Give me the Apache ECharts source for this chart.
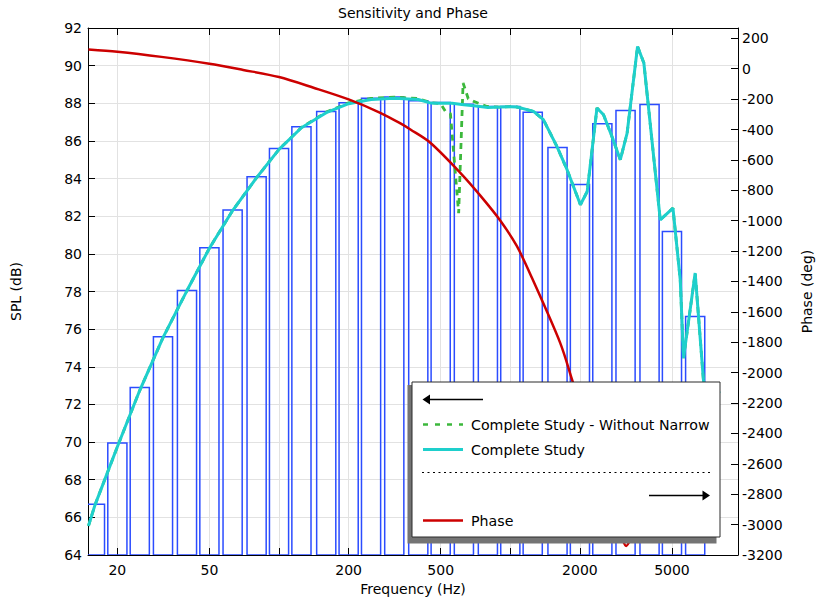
<!DOCTYPE html>
<html>
<head>
<meta charset="utf-8">
<title>Sensitivity and Phase</title>
<script src="https://cdn.jsdelivr.net/npm/echarts@6/dist/echarts.min.js"></script>
<style>
  html, body { margin: 0; padding: 0; background: #fff; }
  #chart { width: 816px; height: 597px; }
</style>
</head>
<body>
<div id="chart"></div>
<script>
// 1/3-octave band levels (dB SPL)
const bandCenters = [16, 20, 25, 31.5, 40, 50, 63, 80, 100, 125, 160, 200, 250, 315, 400,
  500, 630, 800, 1000, 1250, 1600, 2000, 2500, 3150, 4000, 5000, 6300];
const bandSpl = [66.7, 69.95, 72.9, 75.6, 78.05, 80.33, 82.33, 84.1, 85.6, 86.75, 87.56, 88.03, 88.27, 88.34, 88.13,
  88.04, 87.95, 87.83, 87.83, 87.53, 85.65, 83.68, 86.91, 87.62, 87.94, 81.19, 76.67];

// Complete Study: sensitivity (dB SPL)
const studyFreq = [15, 16, 20, 25, 31.5, 40, 50, 63, 80, 100, 125, 160, 200, 250, 315, 400, 450, 500, 560, 630,
  710, 800, 900, 1000, 1070, 1260, 1390, 1590, 1760, 2010, 2150, 2370, 2530, 2750, 2990, 3200, 3550, 3780,
  4450, 5050, 5430, 5610, 6300, 6840, 7300, 8000];
const studySpl = [65.55, 66.65, 69.75, 72.75, 75.55, 78.05, 80.3, 82.3, 84.05, 85.55, 86.7, 87.5, 87.98, 88.2, 88.27, 88.2, 88.02, 88.0, 88.0, 87.92,
  87.85, 87.78, 87.8, 87.82, 87.8, 87.57, 87.13, 85.71, 84.47, 82.61, 83.31, 87.75, 87.39, 86.24, 85.0, 86.42, 91.02, 90.14,
  81.81, 82.43, 78.62, 74.46, 78.98, 73.3, 71.2, 72.7];

// Complete Study - Without Narrow: sensitivity (dB SPL)
const narrowFreq = [15, 16, 20, 25, 31.5, 40, 50, 63, 80, 100, 125, 160, 200, 250, 315, 400, 450, 500, 524, 551,
  598, 625, 658, 694, 793, 900, 1000, 1070, 1260, 1390, 1590, 1760, 2010, 2150, 2370, 2530, 2750, 2990, 3200, 3550, 3780,
  4450, 5050, 5430, 5610, 6300, 6840, 7300, 8000];
const narrowSpl = [65.55, 66.65, 69.75, 72.75, 75.55, 78.05, 80.3, 82.3, 84.05, 85.55, 86.72, 87.53, 88.02, 88.26, 88.33, 88.25, 88.04, 87.98, 87.57, 87.45,
  82.16, 89.08, 88.24, 88.1, 87.83, 87.8, 87.82, 87.8, 87.57, 87.13, 85.71, 84.47, 82.61, 83.31, 87.75, 87.39, 86.24, 85.0, 86.42, 91.02, 90.14,
  81.81, 82.43, 78.62, 74.46, 78.98, 73.3, 71.2, 72.7];

// Phase (deg)
const phaseFreq = [15, 20, 31, 50, 70, 100, 141, 200, 274, 335, 370, 451, 608, 742, 906, 1068, 1240, 1643, 1848,
  2100, 2400, 2800, 2950, 3170, 3400, 3800, 4500, 5500, 6500, 8000];
const phaseDeg = [127, 112, 78, 33, -8, -55, -125, -202, -290, -360, -400, -487, -685, -835, -1000, -1168, -1376, -1804, -2045,
  -2330, -2680, -3112, -3060, -3140, -3060, -2950, -2800, -2650, -2550, -2500];

// Axis ticks
const freqTicks = [20, 50, 100, 200, 500, 1000, 2000, 5000];
const freqLabels = [20, 50, 200, 500, 2000, 5000];

const FONT = 'DejaVu Sans';
const BAND_HALF = 1.1;            // band edge ratio around each centre frequency
const FREQ_MIN = 14.93, FREQ_MAX = 9650;
const SPL_MIN = 64, SPL_MAX = 92;
const PHASE_MIN = -3200, PHASE_MAX = 268;

const COLORS = {
  band: '#2b4cff',
  narrow: '#3cb83c',
  study: '#1ecfcc',
  phase: '#cc0000',
  grid: '#e2e2e2'
};

const pairs = (xs, ys) => xs.map((x, i) => [x, ys[i]]);

const chart = echarts.init(document.getElementById('chart'), null, { renderer: 'svg' });

const axisText = { color: '#000', fontSize: 14, fontFamily: FONT };
const blackLine = { color: '#000', width: 1 };

// Legend box drawn as graphic elements (arrows mark which axis each group uses)
const LX = 412, LY = 382, LW = 308, LH = 155;
const legendGraphic = [
  { type: 'rect', z: 100, shape: { x: LX - 4.5, y: LY + 3, width: LW + 1, height: LH + 3.5 }, style: { fill: '#747474' } },
  { type: 'rect', z: 101, shape: { x: LX, y: LY, width: LW, height: LH }, style: { fill: '#fff', stroke: '#2a2a2a', lineWidth: 1 } },
  // left-axis arrow
  { type: 'line', z: 102, shape: { x1: 429, y1: 399.5, x2: 483, y2: 399.5 }, style: { stroke: '#000', lineWidth: 1.5 } },
  { type: 'polygon', z: 102, shape: { points: [[422.5, 399.5], [430, 394.5], [430, 404.5]] }, style: { fill: '#000' } },
  // Complete Study - Without Narrow
  { type: 'line', z: 102, shape: { x1: 423, y1: 424.5, x2: 463, y2: 424.5 }, style: { stroke: COLORS.narrow, lineWidth: 2.5, lineDash: [5, 7] } },
  { type: 'text', z: 102, style: { text: 'Complete Study - Without Narrow', x: 471, y: 424.5, verticalAlign: 'middle',
      font: '14.2px ' + FONT, fill: '#000', width: 246, overflow: 'truncate', ellipsis: '' } },
  // Complete Study
  { type: 'line', z: 102, shape: { x1: 423, y1: 449.5, x2: 463, y2: 449.5 }, style: { stroke: COLORS.study, lineWidth: 3 } },
  { type: 'text', z: 102, style: { text: 'Complete Study', x: 471, y: 449.5, verticalAlign: 'middle', font: '14.2px ' + FONT, fill: '#000' } },
  // separator
  { type: 'line', z: 102, shape: { x1: 422, y1: 472.5, x2: 710, y2: 472.5 }, style: { stroke: '#000', lineWidth: 1, lineDash: [2, 3.5] } },
  // right-axis arrow
  { type: 'line', z: 102, shape: { x1: 649, y1: 495.5, x2: 703, y2: 495.5 }, style: { stroke: '#000', lineWidth: 1.5 } },
  { type: 'polygon', z: 102, shape: { points: [[710, 495.5], [702.5, 490.5], [702.5, 500.5]] }, style: { fill: '#000' } },
  // Phase
  { type: 'line', z: 102, shape: { x1: 423, y1: 520.5, x2: 463, y2: 520.5 }, style: { stroke: COLORS.phase, lineWidth: 2.5 } },
  { type: 'text', z: 102, style: { text: 'Phase', x: 471, y: 521, verticalAlign: 'middle', font: '14.2px ' + FONT, fill: '#000' } }
];

const option = {
  animation: false,
  backgroundColor: '#fff',
  textStyle: { fontFamily: FONT },
  title: {
    text: 'Sensitivity and Phase',
    left: 333,
    top: 1,
    textStyle: { fontFamily: FONT, fontSize: 14, fontWeight: 'normal', color: '#000' }
  },
  grid: { left: 88, right: 78, top: 28, bottom: 42, containLabel: false, outerBoundsMode: 'none' },
  xAxis: [
    {
      type: 'log', logBase: 10, min: FREQ_MIN, max: FREQ_MAX, position: 'bottom',
      name: 'Frequency (Hz)', nameLocation: 'middle', nameGap: 22, nameTextStyle: axisText,
      axisLine: { onZero: false, lineStyle: blackLine },
      axisTick: { inside: true, length: 7, customValues: freqTicks, lineStyle: blackLine },
      axisLabel: { customValues: freqLabels, formatter: v => String(Math.round(v)), margin: 8, ...axisText },
      splitLine: { show: true, lineStyle: { color: COLORS.grid, width: 1 } },
      minorTick: { show: false }, minorSplitLine: { show: false }
    },
    {
      type: 'log', logBase: 10, min: FREQ_MIN, max: FREQ_MAX, position: 'top',
      axisLine: { onZero: false, lineStyle: blackLine },
      axisTick: { inside: true, length: 7, customValues: freqTicks, lineStyle: blackLine },
      axisLabel: { show: false },
      splitLine: { show: false }
    }
  ],
  yAxis: [
    {
      type: 'value', min: SPL_MIN, max: SPL_MAX, interval: 2, position: 'left',
      name: 'SPL (dB)', nameLocation: 'middle', nameGap: 65, nameRotate: 90, nameTextStyle: axisText,
      axisLine: { show: true, onZero: false, lineStyle: blackLine },
      axisTick: { show: true, inside: true, length: 7, lineStyle: blackLine },
      axisLabel: { margin: 6, ...axisText },
      splitLine: { show: true, lineStyle: { color: COLORS.grid, width: 1 } }
    },
    {
      type: 'value', min: PHASE_MIN, max: PHASE_MAX, interval: 200, position: 'right',
      name: 'Phase (deg)', nameLocation: 'middle', nameGap: 62, nameRotate: 90, nameTextStyle: axisText,
      axisLine: { show: true, onZero: false, lineStyle: blackLine },
      axisTick: { show: true, inside: true, length: 7, lineStyle: blackLine },
      axisLabel: { margin: 4, showMaxLabel: false, formatter: v => (v % 200 === 0 ? String(v) : ''), ...axisText },
      splitLine: { show: false }
    }
  ],
  series: [
    {
      name: 'Bands',
      type: 'custom',
      xAxisIndex: 0, yAxisIndex: 0,
      clip: true, z: 1,
      encode: { x: 0, y: 1 },
      data: pairs(bandCenters, bandSpl),
      renderItem: (params, api) => {
        const f = api.value(0), v = api.value(1);
        const top = api.coord([f / BAND_HALF, v]);
        const bottom = api.coord([f * BAND_HALF, SPL_MIN]);
        return {
          type: 'rect',
          shape: { x: top[0], y: top[1], width: bottom[0] - top[0], height: bottom[1] - top[1] },
          style: { fill: 'none', stroke: COLORS.band, lineWidth: 1.5 }
        };
      }
    },
    {
      name: 'Complete Study - Without Narrow',
      type: 'line', xAxisIndex: 0, yAxisIndex: 0,
      showSymbol: false, symbol: 'none', z: 2,
      lineStyle: { color: COLORS.narrow, width: 2.8, type: [6, 5] },
      data: pairs(narrowFreq, narrowSpl)
    },
    {
      name: 'Complete Study',
      type: 'line', xAxisIndex: 0, yAxisIndex: 0,
      showSymbol: false, symbol: 'none', z: 3,
      lineStyle: { color: COLORS.study, width: 3 },
      data: pairs(studyFreq, studySpl)
    },
    {
      name: 'Phase',
      type: 'line', xAxisIndex: 0, yAxisIndex: 1,
      showSymbol: false, symbol: 'none', z: 4,
      smooth: 0.3,
      lineStyle: { color: COLORS.phase, width: 2.5 },
      data: pairs(phaseFreq, phaseDeg)
    }
  ],
  graphic: legendGraphic
};

chart.setOption(option);
</script>
</body>
</html>
